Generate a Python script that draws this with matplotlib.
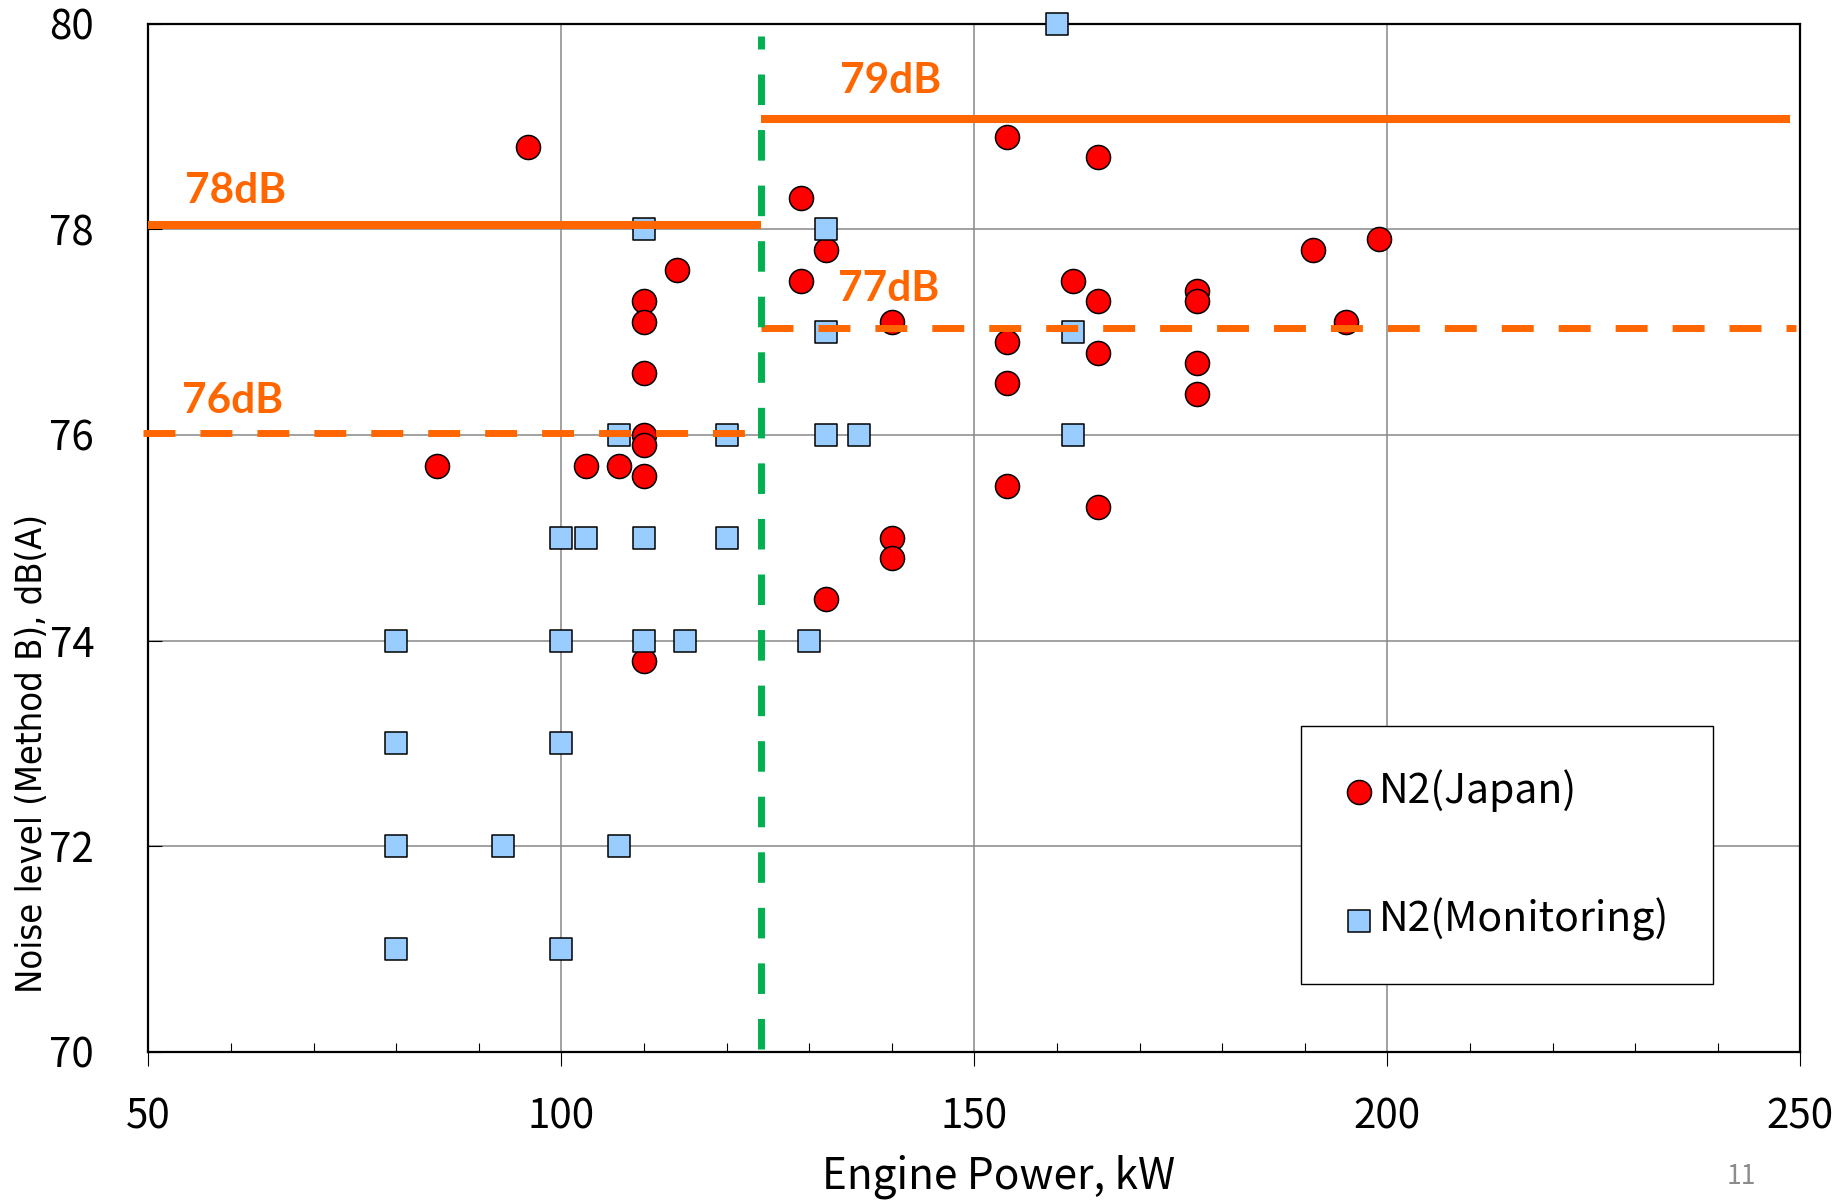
import matplotlib.pyplot as plt

plt.rcParams['font.family'] = ['Noto Sans CJK JP', 'DejaVu Sans']

# N2 (Japan) points
japan_kw = [85, 96, 103, 107, 110, 110, 110, 110, 110, 110, 110,
            114, 129, 129, 132, 132, 140, 140, 140,
            154, 154, 154, 154, 162, 165, 165, 165, 165,
            177, 177, 177, 177, 191, 195, 199]
japan_db = [75.7, 78.8, 75.7, 75.7, 77.3, 77.1, 76.6, 76.0, 75.9, 75.6, 73.8,
            77.6, 78.3, 77.5, 77.8, 74.4, 77.1, 75.0, 74.8,
            78.9, 76.9, 76.5, 75.5, 77.5, 78.7, 77.3, 76.8, 75.3,
            77.4, 77.3, 76.7, 76.4, 77.8, 77.1, 77.9]

# N2 (Monitoring) points
monit_kw = [80, 80, 80, 80, 93, 100, 100, 100, 100, 103, 107, 107,
            110, 110, 110, 115, 120, 120, 130, 132, 132, 132, 136,
            160, 162, 162]
monit_db = [74, 73, 72, 71, 72, 75, 74, 73, 71, 75, 76, 72,
            78, 75, 74, 74, 76, 75, 74, 78, 77, 76, 76,
            80, 77, 76]

# limit lines: (x start, x end, level, label, label x, label y)
split_kw = 124.2
limit_solid = [(50, split_kw, 78.04, '78dB', 54.4, 78.25),
               (split_kw, 248.8, 79.07, '79dB', 133.8, 79.32)]
limit_dash = [(49.4, split_kw, 76.02, '76dB', 54.1, 76.21),
              (split_kw, 249.5, 77.04, '77dB', 133.5, 77.30)]

orange = '#FF6600'
green = '#00B050'

fig = plt.figure(figsize=(18.45, 12.04), dpi=100)
ax = fig.add_axes([148.3 / 1845, 1 - 1052 / 1204, 1652 / 1845, 1028.5 / 1204])

ax.scatter(japan_kw, japan_db, s=300, marker='o', c='#FF0000', edgecolors='black',
           linewidths=1.1, zorder=3, clip_on=False, label='N2(Japan)')
ax.scatter(monit_kw, monit_db, s=250, marker='s', c='#99CCFF', edgecolors='black',
           linewidths=1.1, zorder=4, clip_on=False, label='N2(Monitoring)')

for x0, x1, lvl, txt, tx, ty in limit_solid:
    ax.plot([x0, x1], [lvl, lvl], color=orange, lw=5.8, solid_capstyle='butt',
            zorder=5, clip_on=False)
    ax.text(tx, ty, txt, color=orange, fontsize=30.5, fontweight='bold',
            family='Lato', va='baseline', ha='left', zorder=6)
for x0, x1, lvl, txt, tx, ty in limit_dash:
    ax.plot([x0, x1], [lvl, lvl], color=orange, lw=5.0,
            linestyle=(0, (4.6, 3.6)), dash_capstyle='butt', zorder=5, clip_on=False)
    ax.text(tx, ty, txt, color=orange, fontsize=30.5, fontweight='bold',
            family='Lato', va='baseline', ha='left', zorder=6)

ax.plot([split_kw, split_kw], [70.03, 79.88], color=green, lw=5.0,
        linestyle=(0, (4.4, 3.6)), dash_capstyle='butt', zorder=5)

ax.set_xlim(50, 250)
ax.set_ylim(70, 80)
ax.set_xticks([50, 100, 150, 200, 250])
ax.set_xticks(range(60, 250, 10), minor=True)
ax.set_yticks([70, 72, 74, 76, 78, 80])
ax.grid(True, which='major', color='#888888', lw=1.1, zorder=1)
ax.set_axisbelow(True)

ax.tick_params(axis='x', which='major', direction='out', length=10, width=0.8,
               labelsize=29, pad=22)
ax.tick_params(axis='x', which='minor', direction='in', length=6.5, width=0.8)
ax.tick_params(axis='y', which='major', direction='in', length=10, width=0.8,
               labelsize=29, pad=39)
for sp in ax.spines.values():
    sp.set_linewidth(1.6)
    sp.set_color('black')

ax.set_xlabel('Engine Power, kW', fontsize=30.5)
ax.xaxis.set_label_coords(0.5145, -0.100)
ax.set_ylabel('Noise level (Method B), dB(A)', fontsize=26,
              family='DejaVu Sans', fontstretch='condensed')
ax.yaxis.set_label_coords(-0.060, 0.29)

leg = ax.legend(loc='upper left', bbox_to_anchor=(0.698, 0.317), fontsize=29.5,
                frameon=True, fancybox=False, edgecolor='black', framealpha=1,
                scatterpoints=1, handlelength=0.7, handletextpad=0.15,
                labelspacing=2.1, borderpad=1.05, borderaxespad=0)
leg.get_frame().set_linewidth(1.0)
leg.set_zorder(10)

fig.text(1741 / 1845, 1 - 1177 / 1204, '11', fontsize=19, color='#8c8c8c',
         ha='center', va='center')

fig.savefig('out.png', dpi=100)
